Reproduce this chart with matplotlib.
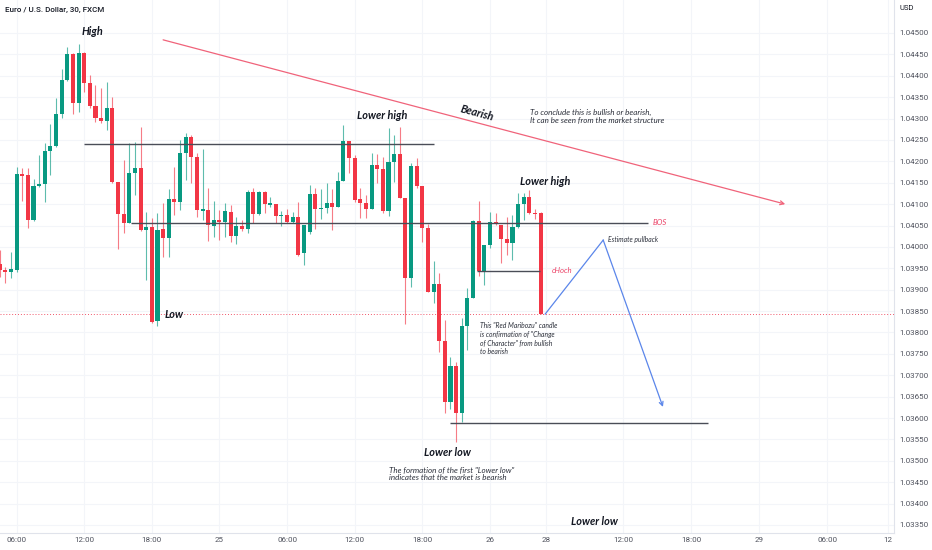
import matplotlib
matplotlib.use("Agg")
import matplotlib.pyplot as plt
import numpy as np

# ---------------- data (EUR/USD 30m, FXCM) ----------------
opens = [1.03959, 1.03945, 1.03941, 1.03945, 1.04170, 1.04168, 1.04062, 1.04142, 1.04147, 1.04224,
         1.04236, 1.04310, 1.04390, 1.04451, 1.04336, 1.04453, 1.04383, 1.04329, 1.04301, 1.04294,
         1.04325, 1.04151, 1.04076, 1.04055, 1.04172, 1.04184, 1.04039, 1.04046, 1.03826, 1.04041,
         1.04020, 1.04112, 1.04105, 1.04219, 1.04257, 1.04210, 1.04083, 1.04086, 1.04048, 1.04062,
         1.04058, 1.04081, 1.04025, 1.04048, 1.04041, 1.04128, 1.04076, 1.04128, 1.04098, 1.04100,
         1.04072, 1.04074, 1.04058, 1.04069, 1.03985, 1.04034, 1.04123, 1.04088, 1.04091, 1.04102,
         1.04093, 1.04154, 1.04247, 1.04208, 1.04112, 1.04102, 1.04088, 1.04191, 1.04182, 1.04083,
         1.04198, 1.04217, 1.04114, 1.03927, 1.04189, 1.04142, 1.04044, 1.03894, 1.03913, 1.03779,
         1.03637, 1.03721, 1.03611, 1.03814, 1.03880, 1.04060, 1.03943, 1.04004, 1.04058, 1.04051,
         1.04018, 1.04009, 1.04046, 1.04100, 1.04116, 1.04079, 1.04079]
highs = [1.03992, 1.03952, 1.03988, 1.04186, 1.04184, 1.04184, 1.04158, 1.04215, 1.04243, 1.04287,
         1.04348, 1.04416, 1.04467, 1.04453, 1.04474, 1.04456, 1.04402, 1.04378, 1.04371, 1.04385,
         1.04350, 1.04151, 1.04203, 1.04243, 1.04245, 1.04280, 1.04081, 1.04067, 1.04079, 1.04102,
         1.04135, 1.04186, 1.04250, 1.04266, 1.04261, 1.04219, 1.04229, 1.04137, 1.04107, 1.04086,
         1.04102, 1.04098, 1.04069, 1.04062, 1.04133, 1.04137, 1.04130, 1.04130, 1.04116, 1.04100,
         1.04083, 1.04088, 1.04081, 1.04105, 1.04051, 1.04144, 1.04137, 1.04135, 1.04149, 1.04135,
         1.04175, 1.04285, 1.04247, 1.04215, 1.04137, 1.04121, 1.04219, 1.04217, 1.04210, 1.04278,
         1.04261, 1.04280, 1.04114, 1.04196, 1.04208, 1.04142, 1.04053, 1.03966, 1.03938, 1.03828,
         1.03742, 1.03730, 1.03835, 1.03903, 1.04062, 1.04107, 1.04004, 1.04081, 1.04079, 1.04051,
         1.04069, 1.04074, 1.04126, 1.04126, 1.04133, 1.04088, 1.04081]
lows = [1.03929, 1.03915, 1.03927, 1.03941, 1.04107, 1.04044, 1.04060, 1.04140, 1.04105, 1.04168,
        1.04233, 1.04301, 1.04388, 1.04310, 1.04315, 1.04362, 1.04325, 1.04292, 1.04289, 1.04273,
        1.04149, 1.03995, 1.04032, 1.04055, 1.04121, 1.04037, 1.03922, 1.03821, 1.03814, 1.03976,
        1.03976, 1.04074, 1.04086, 1.04156, 1.04149, 1.04069, 1.04062, 1.04013, 1.04023, 1.04016,
        1.04023, 1.04011, 1.04006, 1.04037, 1.04032, 1.04055, 1.04074, 1.04079, 1.04093, 1.04055,
        1.04048, 1.04055, 1.04055, 1.03978, 1.03957, 1.04030, 1.04041, 1.04065, 1.04079, 1.04039,
        1.04093, 1.04154, 1.04172, 1.04105, 1.04067, 1.04067, 1.04088, 1.04149, 1.04079, 1.04072,
        1.04151, 1.04114, 1.03819, 1.03906, 1.04137, 1.04011, 1.03894, 1.03868, 1.03754, 1.03611,
        1.03620, 1.03545, 1.03590, 1.03758, 1.03880, 1.03931, 1.03910, 1.03997, 1.04051, 1.03962,
        1.03981, 1.03969, 1.04044, 1.04062, 1.04076, 1.04065, 1.03843]
closes = [1.03945, 1.03941, 1.03948, 1.04170, 1.04165, 1.04062, 1.04142, 1.04147, 1.04224, 1.04236,
          1.04310, 1.04390, 1.04451, 1.04336, 1.04453, 1.04383, 1.04329, 1.04301, 1.04294, 1.04325,
          1.04151, 1.04076, 1.04055, 1.04172, 1.04184, 1.04039, 1.04046, 1.03824, 1.04039, 1.04020,
          1.04112, 1.04105, 1.04219, 1.04257, 1.04210, 1.04086, 1.04088, 1.04051, 1.04062, 1.04058,
          1.04083, 1.04025, 1.04048, 1.04041, 1.04128, 1.04076, 1.04128, 1.04100, 1.04102, 1.04072,
          1.04074, 1.04058, 1.04069, 1.03981, 1.04051, 1.04123, 1.04088, 1.04091, 1.04102, 1.04093,
          1.04154, 1.04247, 1.04208, 1.04109, 1.04102, 1.04088, 1.04191, 1.04182, 1.04083, 1.04198,
          1.04217, 1.04114, 1.03927, 1.04189, 1.04142, 1.04044, 1.03894, 1.03913, 1.03779, 1.03637,
          1.03721, 1.03611, 1.03814, 1.03880, 1.04060, 1.03943, 1.04004, 1.04058, 1.04053, 1.04018,
          1.04009, 1.04046, 1.04100, 1.04116, 1.04079, 1.04076, 1.03843]

# time-axis labels (bar index positions) and price ticks
time_tick_pos = [3, 15, 27, 39, 51, 63, 75, 87, 97, 110.6, 122.7, 134.8, 146.9, 157.6]
time_tick_lbl = ["06:00", "12:00", "18:00", "25", "06:00", "12:00", "18:00", "26",
                 "28", "12:00", "18:00", "29", "06:00", "12"]
price_ticks = [1.03350, 1.03400, 1.03450, 1.03500, 1.03550, 1.03600, 1.03650, 1.03700,
               1.03750, 1.03800, 1.03850, 1.03900, 1.03950, 1.04000, 1.04050, 1.04100,
               1.04150, 1.04200, 1.04250, 1.04300, 1.04350, 1.04400, 1.04450, 1.04500]

# drawn structure levels: price, start bar, end bar
level_price = [1.04241, 1.04055, 1.03944, 1.03588]
level_start = [15.0, 23.3, 84.7, 79.9]
level_end = [77.0, 115.0, 95.9, 125.7]
last_price = 1.03843

# bearish trend line and projected path
trend_x = [29.0, 139.4]
trend_y = [1.04484, 1.04100]
proj_x = [96.8, 107.1, 117.7]
proj_y = [1.03843, 1.04016, 1.03626]

# ---------------- styling ----------------
GREEN = "#089981"
RED = "#f23645"
TXT = "#131722"
W, H = 932, 550
PXW = 5.635          # pixels per bar
PXP = 42782.0        # pixels per price unit


def px2x(px):
    return (px + 0.3) / PXW


def px2y(py):
    return 1.045 - (py - 33) / PXP


fig = plt.figure(figsize=(W / 100, H / 100), dpi=100)
fig.patch.set_facecolor("white")
bottom_px, right_px = 533, 894
ax = fig.add_axes([0, (H - bottom_px) / H, right_px / W, bottom_px / H])
ax.set_facecolor("white")
ax.set_xlim(px2x(0), px2x(right_px))
ax.set_ylim(px2y(bottom_px), px2y(0))

# grid
for t in time_tick_pos:
    ax.axvline(t, color="#f3f5f9", lw=0.8, zorder=0)
for p in price_ticks:
    ax.axhline(p, color="#f3f5f9", lw=0.8, zorder=0)

# candles
idx = np.arange(len(opens))
o = np.array(opens); h = np.array(highs); l = np.array(lows); c = np.array(closes)
up = c >= o
cols = np.where(up, GREEN, RED)
ax.vlines(idx, l, h, colors=cols, lw=0.8, alpha=0.65, zorder=2)
body_lo = np.minimum(o, c)
body_h = np.maximum(np.abs(c - o), 1.2 / PXP)
ax.bar(idx, body_h, bottom=body_lo, width=0.72, color=cols, linewidth=0, zorder=3)

# current price dotted line
ax.axhline(last_price, color="#f0566a", lw=0.7, ls=(0, (1, 2)), zorder=1)

# structure levels
for p, s, e in zip(level_price, level_start, level_end):
    ax.plot([s, e], [p, p], color="#4a4d57", lw=1.0, zorder=4, solid_capstyle="butt")

# trend line with arrow
ax.annotate("", xy=(trend_x[1], trend_y[1]), xytext=(trend_x[0], trend_y[0]),
            arrowprops=dict(arrowstyle="->", color="#f0637a", lw=0.9,
                            shrinkA=0, shrinkB=0, mutation_scale=7), zorder=4)

# projection
BLUE = "#5b86ea"
ax.plot(proj_x[:2], proj_y[:2], color=BLUE, lw=0.9, zorder=4)
ax.annotate("", xy=(proj_x[2], proj_y[2]), xytext=(proj_x[1], proj_y[1]),
            arrowprops=dict(arrowstyle="->", color=BLUE, lw=0.9,
                            shrinkA=0, shrinkB=0, mutation_scale=7), zorder=4)

# axes decoration
for s in ["top", "left"]:
    ax.spines[s].set_visible(False)
for s in ["right", "bottom"]:
    ax.spines[s].set_color("#e0e3eb")
    ax.spines[s].set_linewidth(0.8)

ax.yaxis.tick_right()
ax.set_yticks(price_ticks)
ax.set_yticklabels([f"{p:.5f}" for p in price_ticks])
ax.set_xticks(time_tick_pos)
ax.set_xticklabels(time_tick_lbl)
ax.tick_params(axis="y", length=0, pad=3.6, labelsize=5.8, labelcolor="#50535e")
ax.tick_params(axis="x", length=0, pad=3.0, labelsize=5.8, labelcolor="#50535e")
for lab in ax.get_xticklabels() + ax.get_yticklabels():
    lab.set_family("Roboto")

fig.text(899 / W, 1 - 8 / H, "USD", fontsize=5.5, color=TXT, family="Roboto",
         ha="left", va="center")

# ---------------- annotations ----------------
FONT = "Lato"
BIG = dict(fontsize=7.8, style="italic", weight="bold", color=TXT, family=FONT,
           ha="center", va="center", zorder=6)
SMALL = dict(fontsize=5.8, style="italic", color="#2a2e39", family=FONT,
             ha="left", va="center", zorder=6)

ax.text(px2x(5), px2y(10), "Euro / U.S. Dollar, 30, FXCM", fontsize=5.8, color=TXT,
        family="Roboto", weight="medium", ha="left", va="center", zorder=6)

ax.text(px2x(92), px2y(32), "High", **BIG)
ax.text(px2x(382), px2y(116), "Lower high", **BIG)
ax.text(px2x(545), px2y(182), "Lower high", **BIG)
ax.text(px2x(174), px2y(315), "Low", **BIG)
ax.text(px2x(447), px2y(453), "Lower low", **BIG)
ax.text(px2x(594), px2y(522), "Lower low", **BIG)
ax.text(px2x(477), px2y(113), "Bearish", rotation=-15, rotation_mode="anchor",
        **{**BIG, "ha": "center"})

ax.text(px2x(530), px2y(112), "To conclude this is bullish or bearish,", **SMALL)
ax.text(px2x(530), px2y(120), "It can be seen from the market structure", **SMALL)

ax.text(px2x(653), px2y(223), "BOS", fontsize=5.6, style="italic", color="#ec4468",
        family=FONT, ha="left", va="center", zorder=6)
ax.text(px2x(552), px2y(271), "cHoch", fontsize=5.6, style="italic", color="#ec4468",
        family=FONT, ha="left", va="center", zorder=6)

ax.text(px2x(608), px2y(240), "Estimate pullback", **{**SMALL, "fontsize": 4.9})

maru = ['This "Red Maribozu" candle', 'is confirmation of "Change',
        'of Character" from bullish', 'to bearish']
for k, line in enumerate(maru):
    ax.text(px2x(480), px2y(326 + 8.5 * k), line, **{**SMALL, "fontsize": 4.9})

ax.text(px2x(389), px2y(470), 'The formation of the first "Lower low"', **SMALL)
ax.text(px2x(389), px2y(478), "indicates that the market is bearish", **SMALL)

fig.savefig("out.png", dpi=100, facecolor="white")
